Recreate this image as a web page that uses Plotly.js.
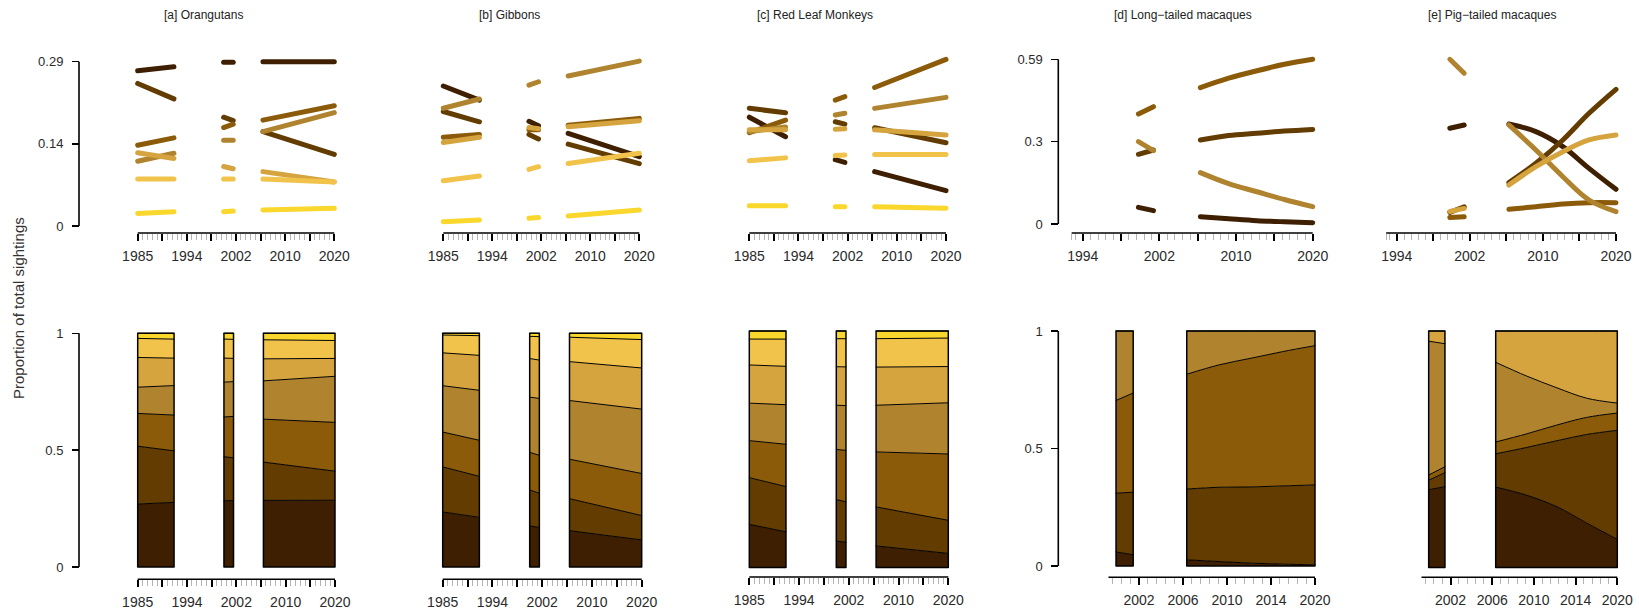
<!DOCTYPE html>
<html><head><meta charset="utf-8">
<script src="https://cdn.plot.ly/plotly-3.0.1.min.js"></script>
<style>
html,body{margin:0;padding:0;background:#fff;}
#chart{width:1639px;height:610px;}
.js-line{stroke-linecap:round !important;stroke-linejoin:round !important;}
</style></head><body><div id="chart"></div>
<script>
// ---------------- DATA ----------------
// category colours, darkest (category 1) to yellow (category 7)
const palette = ['#3e1f01','#633c02','#8b5b09','#b0842f','#d5a43e','#f2c34a','#fad72c'];

// survey periods (x positions, years)
const p1X = [1985, 1991.45];
const p2X = [2000.3, 2002.0];
const p3X = [2007.3, 2020];
const p3Xcurve = [2007.3, 2010.5, 2013.7, 2016.8, 2020];

// [a] Orangutans : one row per category, proportion at the period points
const orangP1 = [[0.271,0.278],[0.249,0.222],[0.141,0.154],[0.113,0.127],[0.128,0.118],[0.082,0.082],[0.022,0.025]];
const orangP2 = [[0.286,0.286],[0.190,0.184],[0.172,0.178],[0.150,0.150],[0.104,0.100],[0.082,0.082],[0.025,0.026]];
const orangP3 = [[0.287,0.287],[0.165,0.125],[0.185,0.210],[0.165,0.198],[0.095,0.077],[0.082,0.077],[0.028,0.031]];

// [b] Gibbons
const gibbP1 = [[0.2445,0.220],[0.200,0.182],[0.155,0.160],[0.2057,0.2218],[0.146,0.155],[0.0792,0.0873],[0.0076,0.0105]];
const gibbP2 = [[0.183,0.175],[0.160,0.152],[0.168,0.168],[0.246,0.252],[0.172,0.170],[0.099,0.1036],[0.0134,0.015]];
const gibbP3 = [[0.162,0.121],[0.143,0.109],[0.176,0.188],[0.262,0.288],[0.1735,0.184],[0.109,0.127],[0.0175,0.028]];

// [c] Red Leaf Monkeys
const redP1 = [[0.190,0.156],[0.2055,0.198],[0.163,0.185],[0.165,0.173],[0.168,0.168],[0.114,0.119],[0.0355,0.0355]];
const redP2 = [[0.116,0.111],[0.182,0.178],[0.220,0.226],[0.194,0.197],[0.169,0.170],[0.123,0.124],[0.0338,0.0338]];
const redP3 = [[0.0949,0.0617],[0.1717,0.1455],[0.242,0.291],[0.2055,0.2247],[0.168,0.159],[0.125,0.125],[0.0338,0.031]];

// [d] Long-tailed macaques (4 categories)
const longP2 = [[0.0599,0.0479],[0.2505,0.266],[0.3955,0.4218],[0.296,0.2636]];
const longP3 = [[0.0264,0.019,0.012,0.008,0.0048],[0.302,0.318,0.326,0.334,0.340],
                [0.490,0.524,0.551,0.574,0.592],[0.1846,0.145,0.116,0.088,0.0623]];

// [e] Pig-tailed macaques (5 categories)
const pigP2 = [[0.344,0.356],[0.042,0.062],[0.023,0.026],[0.592,0.542],[0.045,0.056]];
const pigP3 = [[0.3595,0.332,0.278,0.200,0.1246],[0.1486,0.2181,0.302,0.3979,0.4842],
               [0.0527,0.0623,0.0719,0.0767,0.0767],[0.356,0.266,0.170,0.0863,0.0443],
               [0.140,0.206,0.260,0.302,0.320]];

const panelTitles = ['[a] Orangutans','[b] Gibbons','[c] Red Leaf Monkeys','[d] Long\u2212tailed macaques','[e] Pig\u2212tailed macaques'];
const yTitle = 'Proportion of total sightings';

const longLabels = ['1985','','1994','','2002','','2010','','2020'];
const midLabels = ['1994','','2002','','2010','','2020'];
const shortLabels = ['2002','2006','2010','2014','2020'];
const topTickTextSmall = ['0','0.14','0.29'];
const topTickTextLarge = ['0','0.3','0.59'];
const bottomTickText = ['0','0.5','1'];

const series = [
  [[p1X, orangP1],[p2X, orangP2],[p3X, orangP3]],
  [[p1X, gibbP1],[p2X, gibbP2],[p3X, gibbP3]],
  [[p1X, redP1],[p2X, redP2],[p3X, redP3]],
  [[p2X, longP2],[p3Xcurve, longP3]],
  [[p2X, pigP2],[p3Xcurve, pigP3]]
];

// ---------------- LAYOUT ----------------
const W = 1639, H = 610;
function lin(v, m){ return m[1] + (v - m[0]) * (m[3] - m[1]) / (m[2] - m[0]); }

function grid(kind){
  let majors = [], minors = [], labels, line;
  if (kind === 'long'){
    for (let k=0;k<=8;k++) majors.push(1985 + k*4.375);
    labels = longLabels; line = [1985, 2020];
  } else if (kind === 'mid'){
    for (let k=0;k<=6;k++) majors.push(1994 + k*26/6);
    labels = midLabels; line = [1992.75, 2020];
    minors.push(1992.75, 1993.2);
  } else {
    for (let k=0;k<=4;k++) majors.push(2020 - (4-k)*4.355);
    labels = shortLabels; line = [1999.55, 2020];
    for (let j=1;j<=3;j++) minors.push(majors[0] - j*4.355/5);
  }
  for (let k=0;k<majors.length-1;k++){
    const d = (majors[k+1]-majors[k])/5;
    for (let j=1;j<5;j++) minors.push(majors[k] + j*d);
  }
  return {majors, minors, labels, line};
}

const P = [
  {xMap:[1985,137.7,2020,334.3], xr:[1983.6,2021.4], g:'long', yMap:[0,226,0.287,61.7], yr:[-0.02,0.305], xpos:233, ypos:79, yt:[0,0.1435,0.287], ytt:topTickTextSmall},
  {xMap:[1985,443.3,2020,639.3], xr:[1983.6,2021.4], g:'long', yMap:[0,226,0.287,61.7], yr:[-0.02,0.305], xpos:233},
  {xMap:[1985,749.3,2020,946], xr:[1983.6,2021.4], g:'long', yMap:[0,226,0.287,61.7], yr:[-0.02,0.305], xpos:233},
  {xMap:[1994,1082.7,2020,1312.7], xr:[1991.5,2021.4], g:'mid', yMap:[0,224,0.592,59.3], yr:[-0.03,0.625], xpos:233, ypos:1058.3, yt:[0,0.296,0.592], ytt:topTickTextLarge},
  {xMap:[1994,1396.7,2020,1616], xr:[1991.5,2021.4], g:'mid', yMap:[0,224,0.592,59.3], yr:[-0.03,0.625], xpos:233},
  {xMap:[1985,137.7,2020,335], xr:[1983.6,2021.4], g:'long', yMap:[0,567,1,333.3], yr:[-0.02,1.02], xpos:579.3, ypos:79, yt:[0,0.5,1], ytt:bottomTickText},
  {xMap:[1985,442.7,2020,641.7], xr:[1983.6,2021.4], g:'long', yMap:[0,567,1,333.3], yr:[-0.02,1.02], xpos:579.3},
  {xMap:[1985,749.3,2020,948.3], xr:[1983.6,2021.4], g:'long', yMap:[0,567.5,1,331], yr:[-0.02,1.02], xpos:577},
  {xMap:[2000,1113,2020,1315], xr:[1998.5,2021.2], g:'short', yMap:[0,566,1,331], yr:[-0.02,1.02], xpos:577.3, ypos:1058.3, yt:[0,0.5,1], ytt:bottomTickText},
  {xMap:[2000,1425.8,2020,1617.3], xr:[1998.5,2021.2], g:'short', yMap:[0,567.5,1,331], yr:[-0.02,1.02], xpos:577.3}
];

const xTickFont = {family:'Liberation Sans, Arial, sans-serif', size:14, color:'#2a2a2a'};
const yTickFont = {family:'Liberation Sans, Arial, sans-serif', size:13, color:'#2a2a2a'};
const layout = {
  width: W, height: H, margin:{l:0,r:0,t:0,b:0},
  paper_bgcolor:'#fff', plot_bgcolor:'rgba(0,0,0,0)',
  showlegend:false, shapes:[], annotations:[]
};

P.forEach((p, idx) => {
  const n = idx + 1, sx = n === 1 ? '' : String(n);
  const gr = grid(p.g);
  const xd = [lin(p.xr[0], p.xMap)/W, lin(p.xr[1], p.xMap)/W];
  const yd = [1 - lin(p.yr[0], p.yMap)/H, 1 - lin(p.yr[1], p.yMap)/H];
  layout['xaxis'+sx] = {
    domain: xd, range: p.xr, anchor:'free', position: 1 - p.xpos/H,
    showgrid:false, zeroline:false, showline:false, fixedrange:true,
    tickmode:'array', tickvals: gr.majors, ticktext: gr.labels, tickangle:0,
    ticks:'outside', ticklen:7, tickwidth:2, tickcolor:'#000',
    tickfont: xTickFont, ticklabelstandoff: 3,
    minor:{tickmode:'array', tickvals: gr.minors, ticks:'outside', ticklen:6, tickwidth:1, tickcolor:'#b4b4b4', showgrid:false}
  };
  const ya = {domain: yd, range: p.yr, showgrid:false, zeroline:false, showline:false, fixedrange:true};
  if (p.ypos !== undefined){
    Object.assign(ya, {anchor:'free', position: p.ypos/W, tickmode:'array', tickvals:p.yt, ticktext:p.ytt,
      ticks:'outside', ticklen:7, tickwidth:1.5, tickcolor:'#000', tickfont: yTickFont, ticklabelstandoff: 6});
    layout.shapes.push({type:'line', xref:'paper', yref:'y'+sx, x0:p.ypos/W, x1:p.ypos/W, y0:p.yt[0], y1:p.yt[p.yt.length-1], line:{color:'#000', width:1.6}});
  } else {
    Object.assign(ya, {visible:false});
  }
  layout['yaxis'+sx] = ya;
  layout.shapes.push({type:'line', xref:'x'+sx, yref:'paper', x0:gr.line[0], x1:gr.line[1], y0:1-p.xpos/H, y1:1-p.xpos/H, line:{color:'#000', width:1.6}});
});

const titleX = [203, 509, 815, 1183, 1492];
panelTitles.forEach((t, i) => {
  layout.annotations.push({text:t, xref:'paper', yref:'paper', x:titleX[i]/W, y:1-15/H, xanchor:'center', yanchor:'middle', showarrow:false,
    font:{family:'Liberation Sans, Arial, sans-serif', size:12, color:'#222'}});
});
layout.annotations.push({text:yTitle, xref:'paper', yref:'paper', x:18/W, y:1-308/H, xanchor:'center', yanchor:'middle', textangle:-90, showarrow:false,
  font:{family:'Liberation Sans, Arial, sans-serif', size:15, color:'#333'}});

// ---------------- TRACES ----------------
const traces = [];
series.forEach((periods, pi) => {
  const topN = pi + 1, botN = pi + 6;
  const ts = topN === 1 ? '' : String(topN), bs = String(botN);
  periods.forEach(([X, rows]) => {
    rows.forEach((vals, ci) => {
      traces.push({x:X, y:vals, xaxis:'x'+ts, yaxis:'y'+ts, mode:'lines', hoverinfo:'skip',
        line:{color:palette[ci], width:5, shape: X.length > 2 ? 'spline' : 'linear'}});
    });
  });
  periods.forEach(([X, rows], k) => {
    const sg = 'stack' + botN + '_' + k;
    rows.forEach((vals, ci) => {
      const tr = {x:X, y:vals, xaxis:'x'+bs, yaxis:'y'+bs, mode:'lines', hoverinfo:'skip', stackgroup:sg,
        fillcolor:palette[ci], line:{color:'#000', width:1, shape: X.length > 2 ? 'spline' : 'linear'}};
      if (ci === 0) tr.groupnorm = 'fraction';
      traces.push(tr);
    });
    const x0 = X[0], x1 = X[X.length-1];
    traces.push({x:[x0,x0,x1,x1,x0], y:[0,1,1,0,0], xaxis:'x'+bs, yaxis:'y'+bs, mode:'lines', hoverinfo:'skip',
      line:{color:'#000', width:1.5}});
  });
});

Plotly.newPlot('chart', traces, layout, {staticPlot:true, displayModeBar:false});
</script></body></html>
